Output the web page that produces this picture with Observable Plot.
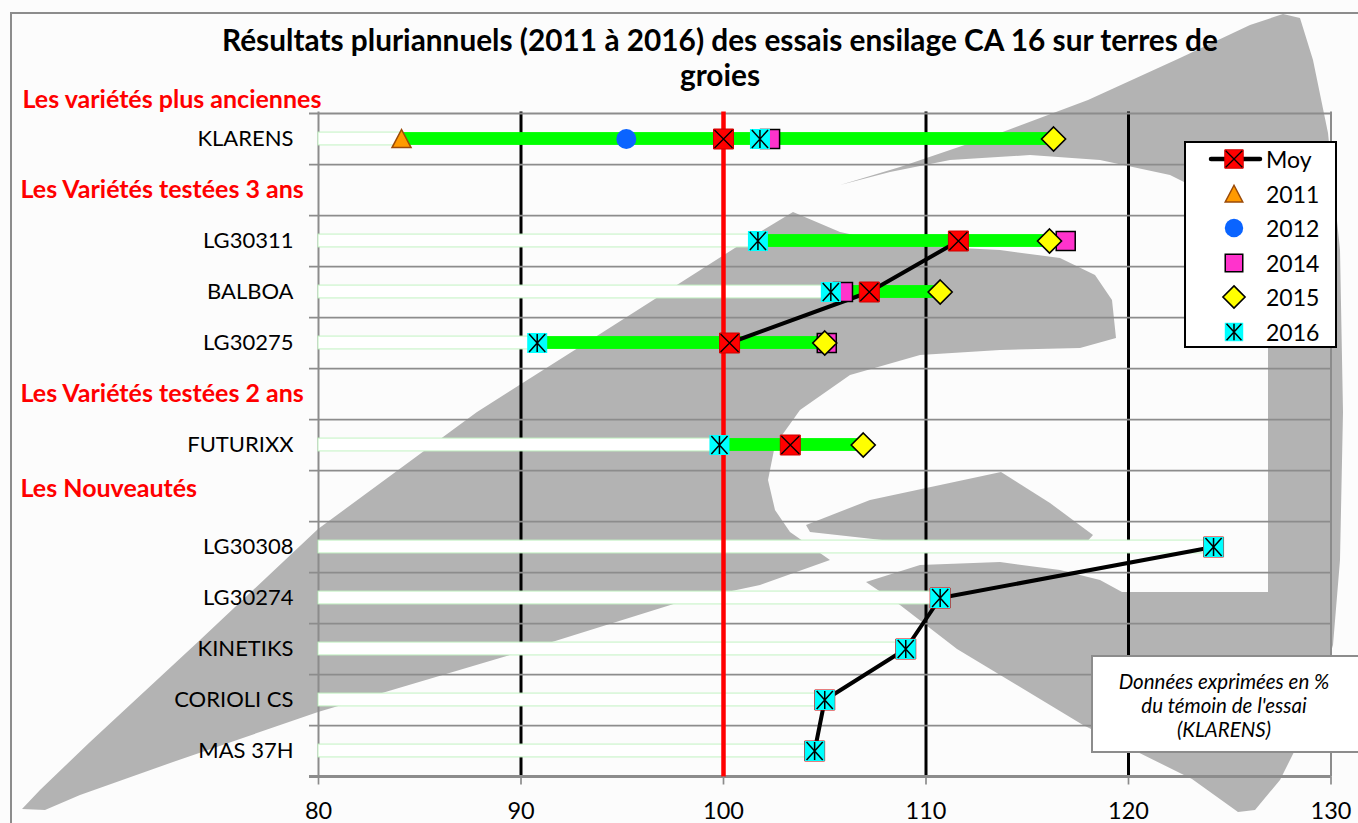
<!DOCTYPE html>
<html>
<head>
<meta charset="utf-8">
<script src="https://cdn.jsdelivr.net/npm/d3@7"></script>
<script src="https://cdn.jsdelivr.net/npm/@observablehq/plot@0.6"></script>
<style>
  html, body { margin: 0; padding: 0; background: #fcfcfc; }
  #wrap { position: relative; width: 1358px; height: 823px; overflow: hidden; font-family: Lato, "Open Sans", sans-serif; background: #fcfcfc; }
  #bg { position: absolute; left: 0; top: 0; }
  #chart { position: absolute; left: 0; top: 0; }
  #chart svg { overflow: visible; }
  .title { position: absolute; left: 172px; width: 1096px; top: 22px; text-align: center; font-weight: bold; font-size: 29.8px; line-height: 35px; color: #000; white-space: nowrap; }
  .legend { position: absolute; left: 1184px; top: 141px; width: 153px; height: 207px; border: 2px solid #000; background: #fff; box-sizing: border-box; }
  .legend .item { position: absolute; left: 0; height: 34px; width: 150px; }
  .legend svg { position: absolute; left: 0; top: 0; }
  .legend span { position: absolute; left: 80px; top: 1px; font-size: 23px; line-height: 30px; color: #000; }
  .note { position: absolute; left: 1091px; top: 655px; width: 272px; height: 98px; border: 2px solid #8c8c8c; background: #fff; box-sizing: border-box; text-align: center; font-style: italic; font-size: 20.5px; line-height: 24px; padding-top: 12px; padding-right: 6px; color: #000; }
</style>
</head>
<body>
<div id="wrap">
  <svg id="bg" width="1358" height="823"></svg>
  <div id="chart"></div>
  <div class="title">Résultats pluriannuels (2011 à 2016) des essais ensilage CA 16 sur terres de<br>groies</div>
  <div class="legend" id="legend"></div>
  <div class="note">Données exprimées en %<br>du témoin de l'essai<br>(KLARENS)</div>
</div>
<script>
// ---------------- DATA ----------------
const varieties = ["KLARENS", "LG30311", "BALBOA", "LG30275", "FUTURIXX", "LG30308", "LG30274", "KINETIKS", "CORIOLI CS", "MAS 37H"];
const groupNames = ["Les variétés plus anciennes", "Les Variétés testées 3 ans", "Les Variétés testées 2 ans", "Les Nouveautés"];
const groupOf = [0, 1, 1, 1, 2, 3, 3, 3, 3, 3];
const v2011 = [84.1, null, null, null, null, null, null, null, null, null];
const v2012 = [95.2, null, null, null, null, null, null, null, null, null];
const v2014 = [102.3, 116.9, 105.9, 105.1, null, null, null, null, null, null];
const v2015 = [116.3, 116.1, 110.7, 105.0, 106.9, null, null, null, null, null];
const v2016 = [101.8, 101.7, 105.3, 90.8, 99.8, 124.2, 110.7, 109.0, 105.0, 104.5];
const moy = [100.0, 111.6, 107.2, 100.3, 103.3, 124.2, 110.7, 109.0, 105.0, 104.5];
const years = ["2011", "2012", "2014", "2015", "2016"];
const yearValues = [v2011, v2012, v2014, v2015, v2016];
const xTicks = [80, 90, 100, 110, 120, 130];
const blackGrid = [90, 110, 120];
const reference = [100];
const moyLabel = "Moy";

// ---------------- DERIVED TABLES ----------------
const rows = [];
varieties.forEach((v, i) => {
  if (i > 0 && groupOf[i] !== groupOf[i - 1]) rows.push(groupNames[groupOf[i]]);
  rows.push(v);
});
const table = varieties.map((name, i) => {
  const vals = yearValues.map(a => a[i]).filter(v => v != null);
  return { name, group: groupOf[i], moy: moy[i], min: d3.min(vals), max: d3.max(vals) };
});
const points = years.map((y, k) => varieties.map((name, i) => ({ name, value: yearValues[k][i] })).filter(d => d.value != null));
const bandHeaders = groupNames.slice(1).filter(g => rows.includes(g));

// ---------------- SYMBOLS ----------------
const R = size => Math.sqrt(size / Math.PI);
const symSquare = { draw(c, s) { const r = R(s); c.moveTo(-r, -r); c.lineTo(r, -r); c.lineTo(r, r); c.lineTo(-r, r); c.closePath(); } };
const symX = { draw(c, s) { const r = R(s); c.moveTo(-r, -r); c.lineTo(r, r); c.moveTo(r, -r); c.lineTo(-r, r); } };
const symStar = { draw(c, s) { const r = R(s); c.moveTo(-r * 0.9, -r); c.lineTo(r * 0.9, r); c.moveTo(r * 0.9, -r); c.lineTo(-r * 0.9, r); c.moveTo(0, -r); c.lineTo(0, r); } };
const symTri = { draw(c, s) { const r = R(s); c.moveTo(0, -r); c.lineTo(r, r * 0.9); c.lineTo(-r, r * 0.9); c.closePath(); } };
const symDiamond = { draw(c, s) { const r = R(s); c.moveTo(0, -r); c.lineTo(r, 0); c.lineTo(0, r); c.lineTo(-r, 0); c.closePath(); } };

const styles = {
  "2011": [{ symbol: symTri, r: 9.5, fill: "#ff9a00", stroke: "#9a4a08", strokeWidth: 1.5 }],
  "2012": [{ symbol: "circle", r: 10, fill: "#0a64ff", stroke: "none" }],
  "2014": [{ symbol: symSquare, r: 9.5, fill: "#ff33cc", stroke: "#000", strokeWidth: 1.5 }],
  "2015": [{ symbol: symDiamond, r: 12, fill: "#ffff00", stroke: "#000", strokeWidth: 1.6 }],
  "2016": [{ symbol: symSquare, r: 10, fill: "#00ffff", stroke: "none" }, { symbol: symStar, r: 9, fill: "none", stroke: "#000", strokeWidth: 1.5 }]
};
const moyStyle = [{ symbol: symSquare, r: 10, fill: "#ff0000", stroke: "#d00000", strokeWidth: 1 }, { symbol: symX, r: 9, fill: "none", stroke: "#000", strokeWidth: 1.3 }];

// ---------------- PLOT ----------------
const W = 1358, H = 823, mT = 111.5, mB = 46.5, mL = 318, mR = 27.5;
const bw = (H - mT - mB) / rows.length;
const barInset = (bw - 13) / 2;
const gray = "#8c8c8c";
const headerStyle = { textAnchor: "start", fill: "#ff0000", fontWeight: "bold", fontSize: 25 };

const marks = [
  Plot.ruleX(blackGrid, { stroke: "#000", strokeWidth: 3 }),
  Plot.ruleX([xTicks[0], xTicks[xTicks.length - 1]], { stroke: gray, strokeWidth: 2 }),
  Plot.ruleY(rows, { y: d => d, dy: bw / 2, stroke: gray, strokeWidth: 1.7, insetLeft: -9 }),
  Plot.ruleY([rows[0]], { y: d => d, dy: -bw / 2, stroke: gray, strokeWidth: 2, insetLeft: -9 }),
  Plot.ruleY([rows[rows.length - 1]], { y: d => d, dy: bw / 2, stroke: gray, strokeWidth: 3, insetLeft: -9 }),
  Plot.barX(table, { y: "name", x1: () => xTicks[0], x2: "min", fill: "#ffffff", stroke: "#c2f3c2", strokeWidth: 1, insetTop: barInset, insetBottom: barInset }),
  Plot.barX(table.filter(d => d.max > d.min), { y: "name", x1: "min", x2: "max", fill: "#00ff00", insetTop: barInset, insetBottom: barInset }),
  Plot.ruleX(reference, { stroke: "#ff0000", strokeWidth: 4.5 }),
  Plot.line(table, { x: "moy", y: "name", z: "group", stroke: "#000", strokeWidth: 4 }),
  ...moyStyle.map(s => Plot.dot(table, { x: "moy", y: "name", ...s })),
  ...years.flatMap((y, k) => styles[y].map(s => Plot.dot(points[k], { x: "value", y: "name", ...s }))),
  Plot.axisX(xTicks, { tickSize: 8, tickPadding: 17, fontSize: 23.5, stroke: gray, strokeWidth: 1.7, label: null }),
  Plot.axisY(varieties, { tickSize: 0, tickPadding: 25, fontSize: 22, label: null }),
  Plot.text(bandHeaders.filter(g => g !== groupNames[3]), { y: d => d, text: d => d, frameAnchor: "left", dx: -298, ...headerStyle }),
  Plot.text([groupNames[3]], { y: d => d, text: d => d, frameAnchor: "left", dx: -298, dy: -7, ...headerStyle }),
  Plot.text([groupNames[0]], { text: d => d, frameAnchor: "top-left", dx: -296, dy: -12, lineAnchor: "middle", ...headerStyle })
];

const chart = Plot.plot({
  width: W, height: H,
  marginTop: mT, marginBottom: mB, marginLeft: mL, marginRight: mR,
  style: { background: "transparent", fontFamily: "Lato, 'Open Sans', sans-serif", color: "#000", overflow: "visible" },
  x: { domain: [xTicks[0], xTicks[xTicks.length - 1]] },
  y: { type: "band", domain: rows, padding: 0 },
  marks
});
document.getElementById("chart").appendChild(chart);

// ---------------- LEGEND ----------------
const legend = d3.select("#legend");
const legendItems = [{ label: moyLabel, st: moyStyle, line: true }, ...years.map(y => ({ label: y, st: styles[y] }))];
legendItems.forEach((it, i) => {
  const div = legend.append("div").attr("class", "item").style("top", (i * 34.5) + "px");
  const svg = div.append("svg").attr("width", 80).attr("height", 34);
  if (it.line) svg.append("line").attr("x1", 25).attr("x2", 74).attr("y1", 16).attr("y2", 16).attr("stroke", "#000").attr("stroke-width", 4.5).attr("stroke-linecap", "round");
  it.st.forEach(s => {
    const sym = s.symbol === "circle" ? d3.symbolCircle : s.symbol;
    svg.append("path").attr("transform", "translate(48,16)")
      .attr("d", d3.symbol(sym, Math.PI * s.r * s.r * 0.85)())
      .attr("fill", s.fill).attr("stroke", s.stroke).attr("stroke-width", s.strokeWidth || 1);
  });
  div.append("span").text(it.label);
});

// ---------------- DECORATIVE BACKGROUND (watermark logo & outer frame) ----------------
const bg = d3.select("#bg");
const lg = "#b3b3b3";
const shapes = [
  [[22,809],[40,790],[90,742],[200,640],[318,529],[477,412],[600,334],[680,283],[760,232],[793,212],[840,232],[900,245],[1000,250],[1060,258],[1095,275],[1112,300],[1116,338],[1080,348],[1000,350],[920,355],[850,375],[800,410],[775,445],[768,480],[775,510],[790,532],[830,560],[760,585],[680,602],[520,652],[318,712],[173,762],[80,795],[45,810]],
  [[840,185],[900,167],[1000,133],[1088,100],[1180,58],[1250,25],[1283,14],[1300,18],[1313,60],[1328,133],[1340,250],[1343,412],[1340,560],[1333,645],[1310,720],[1280,780],[1255,810],[1238,812],[1192,779],[1083,725],[957,649],[900,605],[866,582],[920,565],[1000,562],[1060,570],[1100,580],[1122,592],[1268,592],[1268,300],[1262,250],[1230,205],[1170,175],[1100,160],[1030,155],[950,160],[890,172]],
  [[806,525],[870,500],[1001,472],[1050,503],[1093,535],[1085,544],[1000,548],[900,542],[810,532]]
];
const lineGen = d3.line().curve(d3.curveLinearClosed);
shapes.forEach(s => bg.append("path").attr("d", lineGen(s)).attr("fill", lg));
bg.append("path").attr("d", "M11,823 V13 H1358").attr("fill", "none").attr("stroke", "#8c8c8c").attr("stroke-width", 2);
</script>
</body>
</html>
